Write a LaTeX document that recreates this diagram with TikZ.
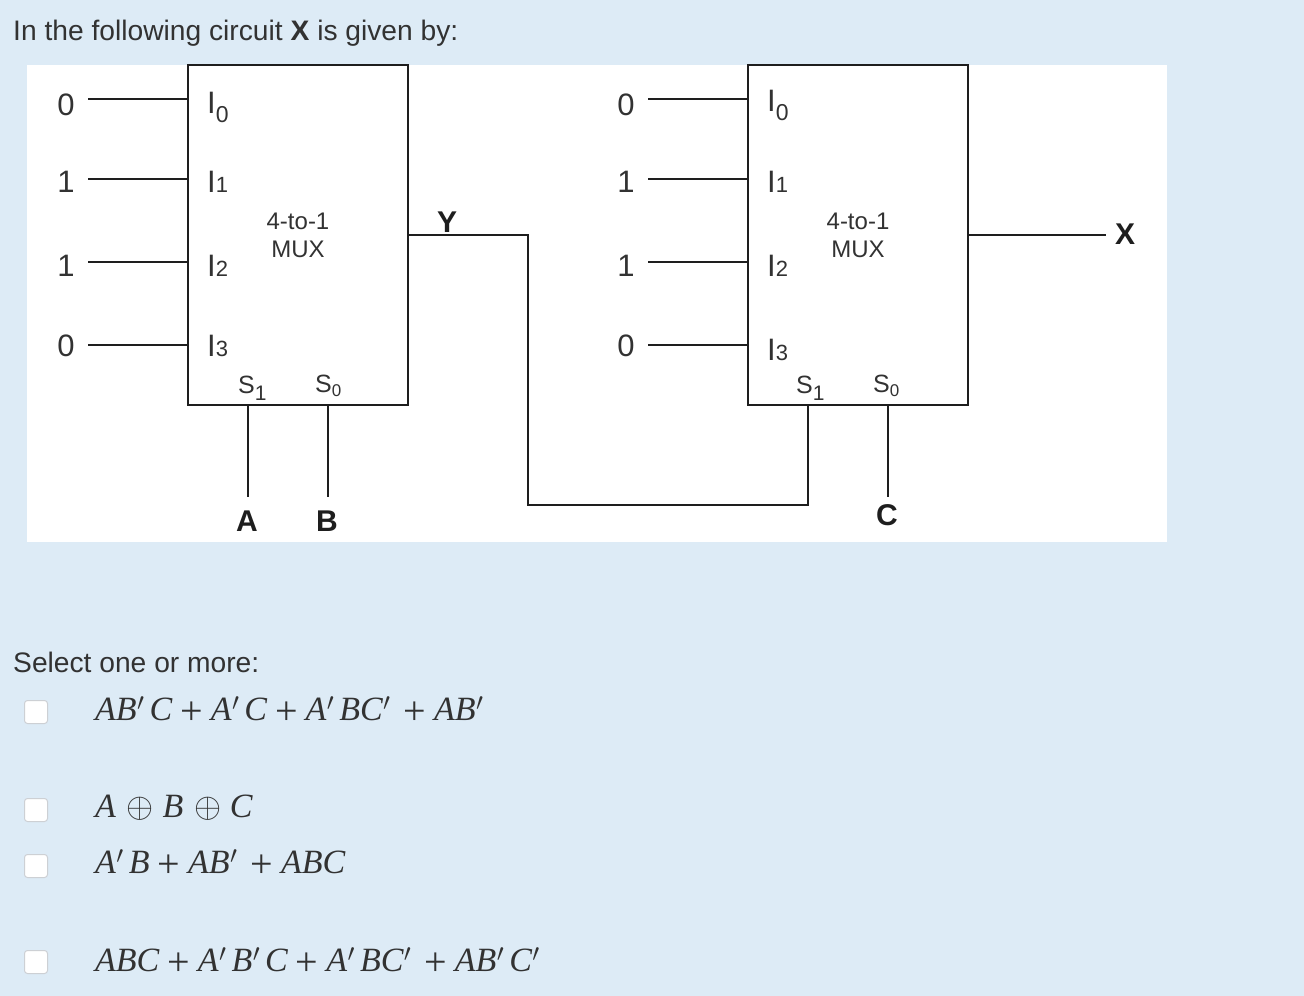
\documentclass[tikz,border=0pt]{standalone}
\usepackage{fontspec}
\setmainfont{Liberation Sans}
\newfontfamily\formulafont{Liberation Serif}
\usetikzlibrary{positioning}

% small digit next to a pin letter
\newcommand{\pinlow}[2]{#1\raisebox{-9pt}{\fontsize{23}{23}\selectfont #2}}
\newcommand{\pinflat}[2]{#1{\fontsize{22}{22}\selectfont #2}}
\newcommand{\prm}{\textsuperscript{\kern0.5pt$\prime$}\kern5pt}
\newcommand{\pls}{\kern8pt\raisebox{-4pt}{\fontsize{40}{40}\selectfont\upshape +}\kern8pt}
\newcommand{\xrr}{\kern11pt\scalebox{1.4}{$\oplus$}\kern8.5pt}

\begin{document}
\begin{tikzpicture}[x=1pt, y=-1pt,
    wire/.style={line width=1.5pt, draw=wirecol},
    muxbox/.style={rectangle, draw=wirecol, line width=1.5pt, fill=white, minimum width=220pt, minimum height=340pt, inner sep=0pt, align=center, font=\fontsize{24}{28}\selectfont, text=textcol},
    valnode/.style={anchor=base, minimum width=44pt, inner sep=0pt, font=\fontsize{31}{31}\selectfont, text=textcol},
    pinnode/.style={anchor=base west, inner sep=0pt, font=\fontsize{31}{31}\selectfont, text=textcol},
    selnode/.style={anchor=base west, inner sep=0pt, font=\fontsize{25}{25}\selectfont, text=textcol},
    sigfont/.style={inner sep=0pt, font=\fontsize{30}{30}\selectfont\bfseries, text=wirecol},
    bodytext/.style={anchor=base west, inner sep=0pt, font=\fontsize{28.2}{28.2}\selectfont, text=textcol},
    choicetext/.style={anchor=base west, inner sep=0pt, font=\fontsize{34}{34}\selectfont\formulafont\itshape, text=textcol},
    tickbox/.style={rectangle, rounded corners=3pt, draw=boxedge, line width=1pt, fill=white, minimum size=23pt, inner sep=0pt}]
  % Define colors
  \definecolor{pagecol}{RGB}{221,235,246}
  \definecolor{wirecol}{RGB}{30,30,30}
  \definecolor{textcol}{RGB}{50,50,50}
  \definecolor{boxedge}{RGB}{205,208,212}

  % Page and white panel
  \fill[pagecol] (0,0) rectangle (1304,996);
  \fill[white] (27,65) rectangle (1167,542);
  \useasboundingbox (0,0) rectangle (1304,996);

  % Question text
  \node[bodytext] (question) at (13,40) {In the following circuit \textbf{X} is given by:};
  \node[bodytext] (selectline) at (13,672) {Select one or more:};

  % First MUX
  \node[muxbox] (muxa) at (298,235) {4-to-1\\MUX};
  \node[valnode] (vala0) at (66,115) {0};
  \node[valnode] (vala1) at (66,192) {1};
  \node[valnode] (vala2) at (66,276) {1};
  \node[valnode] (vala3) at (66,356) {0};
  \node[pinnode] (pina0) at (207,113) {\pinlow{I}{0}};
  \node[pinnode] (pina1) at (207,192) {\pinflat{I}{1}};
  \node[pinnode] (pina2) at (207,276) {\pinflat{I}{2}};
  \node[pinnode] (pina3) at (207,356) {\pinflat{I}{3}};
  \node[selnode] (sela1) at (238,393) {S\raisebox{-7pt}{\fontsize{21}{21}\selectfont 1}};
  \node[selnode] (sela0) at (315,392) {S\raisebox{-4pt}{\fontsize{17}{17}\selectfont 0}};
  \coordinate (ina0) at (188,99);
  \coordinate (ina1) at (188,179);
  \coordinate (ina2) at (188,262);
  \coordinate (ina3) at (188,345);
  \coordinate (sa1) at (248,405);
  \coordinate (sa0) at (328,405);

  % Second MUX
  \node[muxbox] (muxb) at (858,235) {4-to-1\\MUX};
  \node[valnode] (valb0) at (626,115) {0};
  \node[valnode] (valb1) at (626,192) {1};
  \node[valnode] (valb2) at (626,276) {1};
  \node[valnode] (valb3) at (626,356) {0};
  \node[pinnode] (pinb0) at (767,111) {\pinlow{I}{0}};
  \node[pinnode] (pinb1) at (767,192) {\pinflat{I}{1}};
  \node[pinnode] (pinb2) at (767,276) {\pinflat{I}{2}};
  \node[pinnode] (pinb3) at (767,360) {\pinflat{I}{3}};
  \node[selnode] (selb1) at (796,393) {S\raisebox{-7pt}{\fontsize{21}{21}\selectfont 1}};
  \node[selnode] (selb0) at (873,392) {S\raisebox{-4pt}{\fontsize{17}{17}\selectfont 0}};
  \coordinate (inb0) at (748,99);
  \coordinate (inb1) at (748,179);
  \coordinate (inb2) at (748,262);
  \coordinate (inb3) at (748,345);
  \coordinate (sb1) at (808,405);
  \coordinate (sb0) at (888,405);

  % Signal names
  \node[sigfont, anchor=base] (siga) at (247,531) {A};
  \node[sigfont, anchor=base] (sigb) at (327,531) {B};
  \node[sigfont, anchor=base] (sigc) at (887,525) {C};
  \node[sigfont, anchor=base] (sigy) at (447,232) {Y};
  \node[sigfont, anchor=base] (sigx) at (1125,244) {X};

  % Input wires
  \draw[wire] (vala0.east |- ina0) -- (ina0);
  \draw[wire] (vala1.east |- ina1) -- (ina1);
  \draw[wire] (vala2.east |- ina2) -- (ina2);
  \draw[wire] (vala3.east |- ina3) -- (ina3);
  \draw[wire] (valb0.east |- inb0) -- (inb0);
  \draw[wire] (valb1.east |- inb1) -- (inb1);
  \draw[wire] (valb2.east |- inb2) -- (inb2);
  \draw[wire] (valb3.east |- inb3) -- (inb3);

  % Select wires
  \draw[wire] (sa1) -- ++(0,92);
  \draw[wire] (sa0) -- ++(0,92);
  \draw[wire] (sb0) -- ++(0,92);

  % Y feeds S1 of the second MUX, then X out
  \coordinate (busturn) at (528,505);
  \draw[wire] (muxa.east) -| (busturn) -| (sb1);
  \draw[wire] (muxb.east) -- ++(137,0);

  % Choices
  \node[tickbox] (tick1) at (36,712) {};
  \node[tickbox] (tick2) at (36,810) {};
  \node[tickbox] (tick3) at (36,866) {};
  \node[tickbox] (tick4) at (36,962) {};
  \node[choicetext] (choice1) at (95,720) {AB\prm C\pls A\prm C\pls A\prm BC\prm\pls AB\prm};
  \node[choicetext] (choice2) at (95,817) {A\xrr B\xrr C};
  \node[choicetext] (choice3) at (95,873) {A\prm B\pls AB\prm\pls ABC};
  \node[choicetext] (choice4) at (95,971) {ABC\pls A\prm B\prm C\pls A\prm BC\prm\pls AB\prm C\prm};
\end{tikzpicture}
\end{document}
